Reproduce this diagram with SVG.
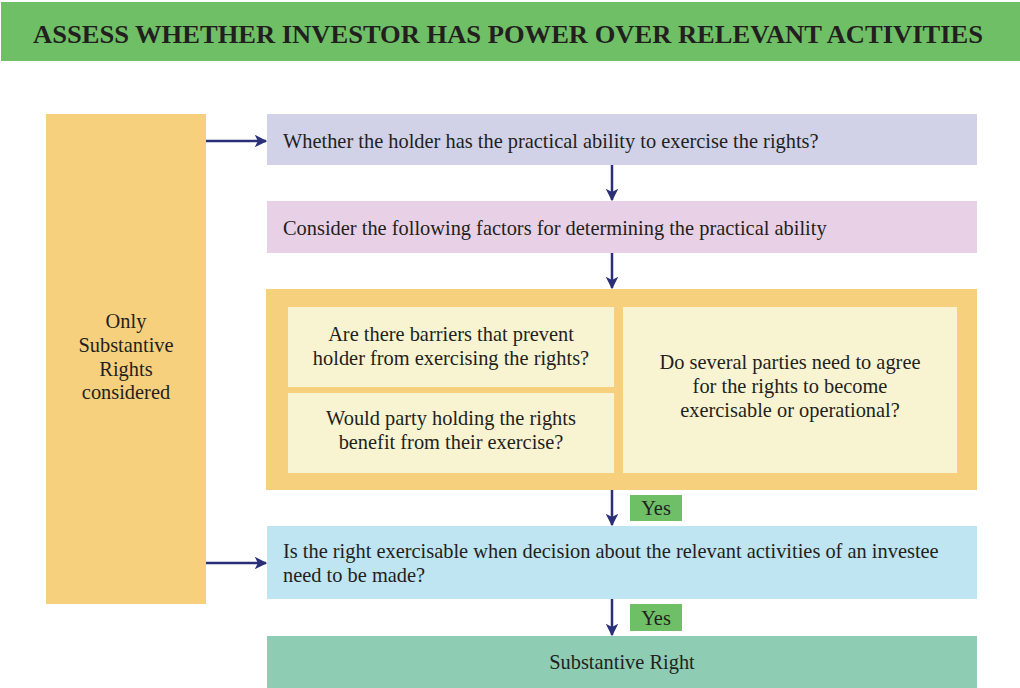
<svg xmlns="http://www.w3.org/2000/svg" width="1020" height="688" viewBox="0 0 1020 688">
<style>
text{font-family:"Liberation Serif","Times New Roman",serif;fill:#231f20;font-size:20.4px}
.c{text-anchor:middle}
.t{font-weight:bold;font-size:26px}
.ln{stroke:#2b2f78;stroke-width:2.5;fill:none}
</style>
<defs>
<marker id="ah" viewBox="0 0 10 10" refX="9" refY="5" markerWidth="5" markerHeight="5" orient="auto" markerUnits="strokeWidth">
<path d="M0,0 L10,5 L0,10 L2.5,5 Z" fill="#2b2f78"/>
</marker>
</defs>
<rect x="0" y="0" width="1020" height="688" fill="#ffffff"/>
<g id="title">
<rect x="1" y="2" width="1019" height="59" fill="#6fbf66"/>
<text class="t c" x="508" y="43" textLength="950" lengthAdjust="spacingAndGlyphs">ASSESS WHETHER INVESTOR HAS POWER OVER RELEVANT ACTIVITIES</text>
</g>
<g id="left">
<rect x="46" y="114" width="160" height="490" fill="#f6d07c"/>
<text class="c" x="126" y="328">Only</text>
<text class="c" x="126" y="352">Substantive</text>
<text class="c" x="126" y="376">Rights</text>
<text class="c" x="126" y="399">considered</text>
</g>
<g id="q1">
<rect x="267" y="114" width="710" height="51" fill="#d1d1e8"/>
<text x="283" y="148">Whether the holder has the practical ability to exercise the rights?</text>
</g>
<g id="q2">
<rect x="267" y="201" width="710" height="52" fill="#e8d0e6"/>
<text x="283" y="235">Consider the following factors for determining the practical ability</text>
</g>
<g id="factors">
<rect x="266" y="289" width="711" height="201" fill="#f6d07c"/>
</g>
<g id="f1">
<rect x="288" y="307" width="326" height="80" fill="#f8f4d2"/>
<text class="c" x="451" y="341">Are there barriers that prevent</text>
<text class="c" x="451" y="365">holder from exercising the rights?</text>
</g>
<g id="f2">
<rect x="288" y="393" width="326" height="80" fill="#f8f4d2"/>
<text class="c" x="451" y="425">Would party holding the rights</text>
<text class="c" x="451" y="449">benefit from their exercise?</text>
</g>
<g id="f3">
<rect x="623" y="307" width="334" height="166" fill="#f8f4d2"/>
<text class="c" x="790" y="369">Do several parties need to agree</text>
<text class="c" x="790" y="393">for the rights to become</text>
<text class="c" x="790" y="417">exercisable or operational?</text>
</g>
<g id="q3">
<rect x="267" y="526" width="710" height="73" fill="#bfe4f2"/>
<text x="283" y="558">Is the right exercisable when decision about the relevant activities of an investee</text>
<text x="283" y="582">need to be made?</text>
</g>
<g id="result">
<rect x="267" y="636" width="710" height="52" fill="#8ecdb4"/>
<text class="c" x="622" y="669">Substantive Right</text>
</g>
<g id="yes1">
<rect x="630" y="495" width="52" height="26" fill="#6fbf66"/>
<text class="c" x="656" y="515">Yes</text>
</g>
<g id="yes2">
<rect x="630" y="604" width="52" height="27" fill="#6fbf66"/>
<text class="c" x="656" y="625">Yes</text>
</g>
<g id="connectors">
<line class="ln" x1="206" y1="141" x2="266" y2="141" marker-end="url(#ah)"/>
<line class="ln" x1="206" y1="563" x2="266" y2="563" marker-end="url(#ah)"/>
<line class="ln" x1="612" y1="165" x2="612" y2="200" marker-end="url(#ah)"/>
<line class="ln" x1="612" y1="253" x2="612" y2="288" marker-end="url(#ah)"/>
<line class="ln" x1="612" y1="490" x2="612" y2="525" marker-end="url(#ah)"/>
<line class="ln" x1="612" y1="599" x2="612" y2="635" marker-end="url(#ah)"/>
</g>
</svg>
